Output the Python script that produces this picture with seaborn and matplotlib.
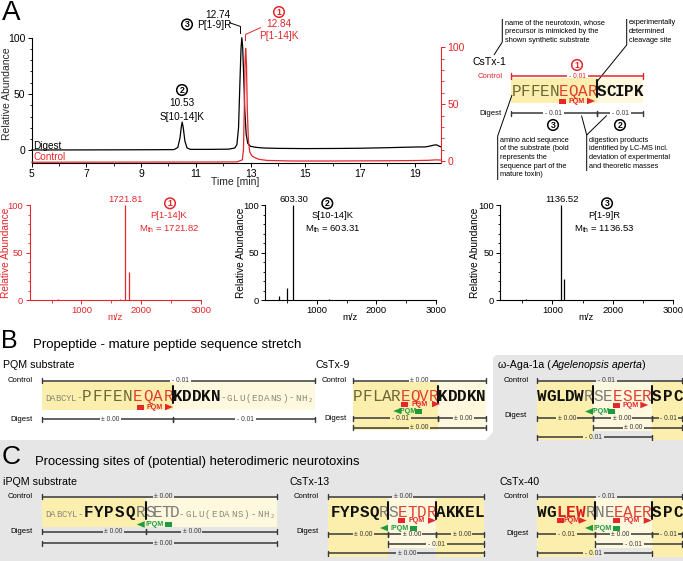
import matplotlib
matplotlib.use("Agg")
import matplotlib.pyplot as plt
import seaborn as sns
from matplotlib.patches import Rectangle, Polygon, Circle
from matplotlib.ticker import FixedLocator

# ================= DATA =================
# Panel A chromatogram (Digest: left axis, Control: right axis)
digest_time = [5.0, 6.5, 8.0, 9.5, 10.2, 10.34, 10.42, 10.47, 10.50, 10.54, 10.60, 10.68, 10.80,
               11.5, 12.2, 12.42, 12.50, 12.56, 12.61, 12.65, 12.68, 12.71, 12.75, 12.79, 12.84,
               12.90, 13.00, 13.20, 13.50, 14.0, 15.0, 16.0, 17.0, 18.0, 19.0, 19.4, 19.6, 19.7,
               19.8, 19.9, 19.96]
digest_abund = [0.3, 0.3, 0.4, 0.5, 0.6, 2.5, 11, 21, 25, 20, 8, 2, 0.8,
                0.8, 1.0, 2, 5, 20, 60, 90, 100, 92, 65, 35, 14,
                6, 3.5, 2.6, 2.0, 1.7, 1.5, 1.6, 1.8, 2.3, 2.9, 3.0, 4.0, 4.6,
                4.8, 3.6, 3.0]
control_time = [5.0, 8.0, 11.0, 12.5, 12.70, 12.74, 12.77, 12.80, 12.82, 12.85, 12.88, 12.92,
                12.97, 13.05, 13.15, 13.30, 13.60, 14.5, 16.0, 18.0, 19.0, 19.5, 19.8, 19.96]
control_abund = [-1.1, -1.0, -0.9, -0.8, 1, 10, 45, 88, 99, 85, 45, 18,
                 8, 4.5, 3, 1.5, 0.5, 0, 0, 0.2, 0.4, 0.6, 1.0, 0.8]
chrom_xticks = [5, 7, 9, 11, 13, 15, 17, 19]
chrom_xminor = [6, 8, 10, 12, 14, 16, 18]

# Mass spectra
ms1_mz = [600, 1650, 1721.81, 1790]
ms1_int = [1.2, 0.8, 100, 30]
ms2_mz = [360, 505, 603.30, 1200]
ms2_int = [4.5, 12.5, 100, 0.6]
ms3_mz = [560, 1136.52, 1190, 2000]
ms3_int = [0.8, 100, 22, 0.5]
ms_xticks = [1000, 2000, 3000]
ms_xminor = [500, 1500, 2500]
ms1_text = ["1721.81", "P[1-14]K", r"M$_{\rm th}$ = 1721.82"]
ms2_text = ["603.30", "S[10-14]K", r"M$_{\rm th}$ = 603.31"]
ms3_text = ["1136.52", "P[1-9]R", r"M$_{\rm th}$ = 1136.53"]

# Sequences: blocks between cleavage sites, (letters, style)
seq_cstx1 = [[("PFFEN", "pro"), ("EQAR", "red")], [("SCIPK", "bold")]]
seq_pqm = [[("PFFEN", "pro"), ("EQAR", "red")], [("KDDKN", "bold")]]
seq_cstx9 = [[("PFLAR", "pro"), ("EQVR", "red")], [("KDDKN", "bold")]]
seq_aga = [[("WGLDW", "bold"), ("R", "gray")], [("SE", "gray"), ("ESER", "red")], [("SPC", "bold")]]
seq_ipqm = [[("FYPSQ", "bold"), ("R", "gray")], [("SETD", "gray")]]
seq_cstx13 = [[("FYPSQ", "bold"), ("R", "gray")], [("S", "gray"), ("ETDR", "red")], [("AKKEL", "bold")]]
seq_cstx40 = [[("WG", "bold"), ("LEW", "boldred"), ("R", "gray")], [("NE", "gray"), ("EAER", "red")], [("SPC", "bold")]]
substrate_prefix = "DABCYL-"
substrate_suffix = "-GLU(EDANS)-NH\u2082"

# Mass deviations
dev_cstx1 = ["- 0.01", "- 0.01", "- 0.01"]
dev_pqm = ["- 0.01", "\u00b1 0.00", "- 0.01"]
dev_cstx9 = ["\u00b1 0.00", "- 0.01", "\u00b1 0.00", "\u00b1 0.00"]
dev_aga = ["- 0.01", "\u00b1 0.00", "\u00b1 0.00", "- 0.01", "\u00b1 0.00", "- 0.01"]
dev_ipqm = ["\u00b1 0.00", "\u00b1 0.00", "\u00b1 0.00", "\u00b1 0.00"]
dev_cstx13 = ["\u00b1 0.00", "\u00b1 0.00", "\u00b1 0.00", "\u00b1 0.00", "- 0.01", "\u00b1 0.00"]
dev_cstx40 = ["- 0.01", "- 0.01", "\u00b1 0.00", "- 0.01", "- 0.01", "- 0.01"]

# ================= STYLE =================
sns.set_style("ticks")
plt.rcParams["font.family"] = ["Liberation Sans", "DejaVu Sans"]
plt.rcParams["mathtext.fontset"] = "custom"
plt.rcParams["mathtext.rm"] = "Liberation Sans"
RED = "#e5262b"
TRED = "#e2402e"
GREEN = "#1f9a3c"
DARK = "#383838"
YEL = "#fcefae"
YEL_L = "#fef8de"
GRAYBG = "#e6e6e6"
MONO = ["Liberation Mono", "DejaVu Sans Mono"]
STY = {"pro": ("#6b6838", "normal"), "red": (TRED, "normal"), "bold": ("#111111", "bold"),
       "boldred": ("#d81e1e", "bold"), "gray": ("#7a7a7a", "normal")}

W, H = 683, 561
fig = plt.figure(figsize=(W / 100, H / 100), dpi=100)


def px(l, t, r, b):
    return [l / W, 1 - b / H, (r - l) / W, (b - t) / H]


def style_axis(ax, color, fs):
    for s in ["left", "bottom"]:
        ax.spines[s].set_color(color)
        ax.spines[s].set_linewidth(0.8)
    for s in ["top", "right"]:
        ax.spines[s].set_visible(False)
    ax.tick_params(which="major", length=3, width=0.7, color=color, labelcolor=color, labelsize=fs, pad=1.5)
    ax.tick_params(which="minor", length=1.8, width=0.6, color=color)
    ax.set_facecolor("none")


# ---------------- chromatogram ----------------
axc = fig.add_axes(px(31.7, 37.7, 441, 163))
sns.lineplot(x=digest_time, y=digest_abund, ax=axc, color="black", lw=0.9, estimator=None, sort=False)
axc.lines[-1].set_clip_on(False)
axc.set_xlim(5, 19.96)
axc.set_ylim(-11.3, 100)
style_axis(axc, "black", 7.5)
axc.xaxis.set_major_locator(FixedLocator(chrom_xticks))
axc.xaxis.set_minor_locator(FixedLocator(chrom_xminor))
axc.yaxis.set_major_locator(FixedLocator([0, 50, 100]))
axc.yaxis.set_minor_locator(FixedLocator(list(range(0, 101, 10))))
axc.set_xlabel("Time [min]", fontsize=7.5)
axc.xaxis.set_label_coords(0.497, -0.115)
axc.set_ylabel("Relative Abundance", fontsize=7.5)
axc.yaxis.set_label_coords(-0.047, 0.55)

axr = axc.twinx()
sns.lineplot(x=control_time, y=control_abund, ax=axr, color=RED, lw=0.9, estimator=None, sort=False)
axr.lines[-1].set_clip_on(False)
axr.set_ylim(-1.76, 108.4)
for s in ["left", "top", "bottom"]:
    axr.spines[s].set_visible(False)
axr.spines["right"].set_color(RED)
axr.spines["right"].set_linewidth(0.8)
axr.spines["right"].set_bounds(-1.76, 100)
axr.yaxis.set_major_locator(FixedLocator([0, 50, 100]))
axr.yaxis.set_minor_locator(FixedLocator(list(range(0, 101, 10))))
axr.tick_params(which="major", length=3, width=0.7, color=RED, labelcolor=RED, labelsize=7.5, pad=1.5)
axr.tick_params(which="minor", length=1.8, width=0.6, color=RED)
axr.set_ylabel("")
axr.set_facecolor("none")

# ---------------- mass spectra ----------------
spectra = [(29.5, 201, ms1_mz, ms1_int, RED, -0.108), (265, 436, ms2_mz, ms2_int, "black", -0.114),
           (500, 673, ms3_mz, ms3_int, "black", -0.113)]
for (l, r, mz, it, col, lx) in spectra:
    ax = fig.add_axes(px(l, 205.3, r, 300))
    ax.vlines(mz, 0, it, color=col, lw=0.9, clip_on=False)
    ax.set_xlim(130, 3000)
    ax.set_ylim(0, 100)
    style_axis(ax, col, 6.8)
    ax.xaxis.set_major_locator(FixedLocator(ms_xticks))
    ax.xaxis.set_minor_locator(FixedLocator(ms_xminor))
    ax.yaxis.set_major_locator(FixedLocator([0, 50, 100]))
    ax.yaxis.set_minor_locator(FixedLocator(list(range(0, 101, 10))))
    ax.set_xlabel("m/z", fontsize=6.8, color=col)
    ax.xaxis.set_label_coords(0.5, -0.135)
    ax.set_ylabel("Relative Abundance", fontsize=7.3, color=col)
    ax.yaxis.set_label_coords(lx, 0.5)

# ---------------- overlay ----------------
ov = fig.add_axes([0, 0, 1, 1], zorder=10)
ov.set_xlim(0, W)
ov.set_ylim(H, 0)
ov.axis("off")
ov.patch.set_alpha(0)

# gray background of panel C and omega-Aga box
ov.add_patch(Polygon([(0, 440), (486, 440), (493, 432), (493, 358), (496, 355), (683, 355),
                      (683, 561), (0, 561)], closed=True, color=GRAYBG, lw=0, zorder=0))


def T(x, y, s, fs=6, color="black", ha="left", va="center", **kw):
    return ov.text(x, y, s, fontsize=fs, color=color, ha=ha, va=va, **kw)


def circ(x, y, d, color="black"):
    ov.add_patch(Circle((x, y), 5.3, fill=False, ec=color, lw=1.1, zorder=5))
    T(x, y + 0.3, d, fs=6.3, color=color, ha="center", weight="bold")


def line(pts, color="black", lw=0.7):
    ov.plot([p[0] for p in pts], [p[1] for p in pts], color=color, lw=lw, solid_capstyle="butt")


def bracket(x0, x1, y, label, lx, color=DARK, gap=21, fs=4.8):
    ov.plot([x0, lx - gap / 2], [y, y], color=color, lw=1.1, solid_capstyle="butt")
    ov.plot([lx + gap / 2, x1], [y, y], color=color, lw=1.1, solid_capstyle="butt")
    ov.plot([x0, x0], [y - 2.6, y + 2.6], color=color, lw=1.0)
    ov.plot([x1, x1], [y - 2.6, y + 2.6], color=color, lw=1.0)
    T(lx, y, label, fs=fs, color=color, ha="center")


def yellow(x0, x1, y0, y1, c):
    ov.add_patch(Rectangle((x0, y0), x1 - x0, y1 - y0, color=c, lw=0, zorder=0.5))


def spaced(x0, x1, base, parts, fs=11.5):
    n = sum(len(p[0]) for p in parts)
    pitch = (x1 - x0) / n
    i = 0
    for txt, st in parts:
        col, wt = STY[st]
        for ch in txt:
            ov.text(x0 + (i + 0.5) * pitch, base, ch, ha="center", va="baseline", fontsize=fs,
                    color=col, weight=wt, family=MONO, zorder=3)
            i += 1


def small_seq(x0, x1, base, s):
    pitch = (x1 - x0) / len(s)
    for i, ch in enumerate(s):
        ov.text(x0 + (i + 0.5) * pitch, base, ch, ha="center", va="baseline", fontsize=6.6,
                color="#8a8a78", family=MONO, zorder=3)


def sequence(bounds, base, blocks):
    for k, blk in enumerate(blocks):
        spaced(bounds[k], bounds[k + 1], base, blk)


def cut(x, y0, y1):
    ov.plot([x, x], [y0, y1], color="#111111", lw=1.5, zorder=4)


def enzyme(xa, xb, y, label, color, right=True):
    h, rw, tl, th = 5, 7, 8, 6.5
    if right:
        ov.add_patch(Rectangle((xa, y - h / 2), rw, h, color=color, lw=0, zorder=4))
        ov.add_patch(Polygon([(xb - tl, y - th / 2), (xb, y), (xb - tl, y + th / 2)], color=color, lw=0, zorder=4))
        tx = (xa + rw + xb - tl) / 2
    else:
        ov.add_patch(Rectangle((xb - rw, y - h / 2), rw, h, color=color, lw=0, zorder=4))
        ov.add_patch(Polygon([(xa + tl, y - th / 2), (xa, y), (xa + tl, y + th / 2)], color=color, lw=0, zorder=4))
        tx = (xa + tl + xb - rw) / 2
    ov.text(tx, y + 0.3, label, ha="center", va="center", fontsize=5.1, weight="bold", color=color, zorder=4)


# ---------- panel letters & titles ----------
T(2, 12.5, "A", fs=20)
T(1, 341, "B", fs=18)
T(33, 345, "Propeptide - mature peptide sequence stretch", fs=9.5)
T(2, 457, "C", fs=19)
T(35, 462, "Processing sites of (potential) heterodimeric neurotoxins", fs=9.4)

# ---------- chromatogram annotations ----------
circ(187, 24.5, "3")
T(218.3, 15.2, "12.74", fs=7.2, ha="center")
T(214.3, 25, "P[1-9]R", fs=7.2, ha="center")
line([(229, 22.5), (240.5, 26.5), (240.5, 34)])
circ(279, 12, "1", RED)
T(279, 24, "12.84", fs=7.2, ha="center", color=RED)
T(279, 35.7, "P[1-14]K", fs=7.2, ha="center", color=RED)
line([(245.5, 41), (245.5, 34.5), (261, 27.5)], color=RED)
circ(182, 90, "2")
T(182, 103.3, "10.53", fs=7.2, ha="center")
T(182, 116.7, "S[10-14]K", fs=7.2, ha="center")
T(33, 145.5, "Digest", fs=7.2)
T(33, 156.5, "Control", fs=7.2, color=RED)

# ---------- spectrum annotations ----------
for (pk, cx, tx, txt, col, num) in [(125, 170, 169, ms1_text, RED, "1"),
                                    (293.5, 327.3, 333, ms2_text, "black", "2"),
                                    (562, 607, 604, ms3_text, "black", "3")]:
    T(pk, 199, txt[0], fs=6.8, ha="center", color=col)
    circ(cx, 203.3, num, col)
    T(tx, 215.7, txt[1], fs=6.8, ha="center", color=col)
    T(tx, 229, txt[2], fs=6.8, ha="center", color=col)

# ---------- panel A explanatory diagram (CsTx-1) ----------
for i, s in enumerate(["name of the neurotoxin, whose", "precursor is mimicked by the", "shown synthetic substrate"]):
    T(505, 22.7 + 8.67 * i, s, fs=5.3)
for i, s in enumerate(["experimentally", "determined", "cleavage site"]):
    T(629, 22.7 + 8.67 * i, s, fs=5.3)
for i, s in enumerate(["amino acid sequence", "of the substrate (bold", "represents the",
                       "sequence part of the", "mature toxin)"]):
    T(500, 140 + 8.67 * i, s, fs=5.3)
for i, s in enumerate(["digestion products", "identified by LC-MS incl.", "deviation of experimental",
                       "and theoretic masses"]):
    T(589, 140 + 8.67 * i, s, fs=5.3)
line([(502.3, 19), (502.3, 42), (494, 55)])
line([(626.7, 19), (626.7, 45), (597.5, 81)])
line([(497.7, 180), (497.7, 136), (512, 95)])
line([(586.7, 171), (586.7, 135), (581.5, 115.5)])
line([(586.7, 135), (606.7, 115.5)])

T(472.7, 61.7, "CsTx-1", fs=7.6)
T(502.7, 76, "Control", fs=5.6, ha="right", color=RED)
circ(577, 65, "1", RED)
bracket(511, 643, 76, dev_cstx1[0], 577, color=RED)
yellow(511, 597, 78, 103, YEL)
yellow(597, 643, 78, 103, YEL_L)
sequence([511.5, 597, 643], 95.5, seq_cstx1)
cut(597, 80, 97)
enzyme(559, 595, 101, "PQM", RED)
T(501.7, 113.3, "Digest", fs=5.6, ha="right")
bracket(511, 597, 113.3, dev_cstx1[1], 553)
bracket(597, 643, 113.3, dev_cstx1[2], 620)
circ(553, 125, "3")
circ(620, 125, "2")

# ---------- panel B ----------
# PQM substrate
T(3, 365, "PQM substrate", fs=7.7)
T(33, 380.7, "Control", fs=5.6, ha="right")
bracket(41.7, 315, 380.7, dev_pqm[0], 180)
yellow(41.7, 173.3, 382, 410, YEL)
yellow(173.3, 315, 382, 410, YEL_L)
small_seq(45, 81.7, 400.5, substrate_prefix)
sequence([81.7, 173.3, 220], 400.5, seq_pqm)
small_seq(220, 313, 400.5, substrate_suffix)
cut(173.3, 386, 403)
enzyme(136.7, 173, 407, "PQM", RED)
T(33, 419.3, "Digest", fs=5.6, ha="right")
bracket(41.7, 173.3, 419.3, dev_pqm[1], 110)
bracket(173.3, 315, 419.3, dev_pqm[2], 245)

# CsTx-9
T(315, 365, "CsTx-9", fs=7.7)
T(347, 380.7, "Control", fs=5.6, ha="right")
bracket(352.7, 486, 380.7, dev_cstx9[0], 419.3)
yellow(352.7, 438.3, 382, 430, YEL)
yellow(438.3, 486, 382, 430, YEL_L)
sequence([353.3, 438.3, 486], 400.5, seq_cstx9)
cut(438.3, 386, 403)
enzyme(401, 440, 404, "PQM", RED)
enzyme(393.3, 421.7, 411, "iPQM", GREEN, right=False)
T(347, 418.3, "Digest", fs=5.6, ha="right")
bracket(352.7, 438.3, 418.3, dev_cstx9[1], 400)
bracket(438.3, 486, 418.3, dev_cstx9[2], 463.3)
bracket(352.7, 486, 427.7, dev_cstx9[3], 419)

# omega-Aga-1a
rend = fig.canvas.get_renderer()
xx = 498.3
for s, st in [("\u03c9-Aga-1a (", "normal"), ("Agelenopsis aperta", "italic"), (")", "normal")]:
    t = T(xx, 365, s, fs=7.7, style=st)
    xx = t.get_window_extent(rend).x1
T(529, 380.7, "Control", fs=5.6, ha="right")
bracket(536.7, 681.7, 380.7, dev_aga[0], 606)
yellow(536.7, 593.3, 382, 440, YEL)
yellow(593.3, 651.7, 382, 431, YEL_L)
yellow(651.7, 683, 382, 440, YEL)
sequence([536.7, 593.3, 651.7, 683], 400.5, seq_aga)
cut(593.3, 386, 403)
cut(651.7, 386, 403)
enzyme(613.3, 648.3, 405, "PQM", RED)
enzyme(585, 615, 411.5, "iPQM", GREEN, right=False)
T(526.7, 415, "Digest", fs=5.6, ha="right")
bracket(536.7, 593.3, 418.3, dev_aga[1], 566.7)
bracket(593.3, 651.7, 418.3, dev_aga[2], 621.7)
bracket(651.7, 681.7, 418.3, dev_aga[3], 668.3, gap=19)
bracket(593.3, 681.7, 427.7, dev_aga[4], 633)
bracket(536.7, 651.7, 437.3, dev_aga[5], 593.3)

# ---------- panel C ----------
# iPQM substrate
T(3, 481.7, "iPQM substrate", fs=7.7)
T(33, 496.7, "Control", fs=5.6, ha="right")
bracket(41.7, 276.7, 496.7, dev_ipqm[0], 163.3)
yellow(41.7, 145.7, 498, 527, YEL)
yellow(145.7, 276.7, 498, 527, YEL_L)
small_seq(45, 83.3, 517, substrate_prefix)
sequence([83.3, 145.7, 178.3], 517, seq_ipqm)
small_seq(178.3, 276, 517, substrate_suffix)
cut(145.7, 502, 519)
enzyme(136.7, 171.7, 524.5, "iPQM", GREEN, right=False)
T(33, 531.7, "Digest", fs=5.6, ha="right")
bracket(41.7, 145.7, 531.7, dev_ipqm[1], 113.3)
bracket(145.7, 276.7, 531.7, dev_ipqm[2], 191.7)
bracket(41.7, 276.7, 543.3, dev_ipqm[3], 163.3)

# CsTx-13
T(290, 481.7, "CsTx-13", fs=7.7)
T(318.3, 496.7, "Control", fs=5.6, ha="right")
bracket(328.3, 484, 496.7, dev_cstx13[0], 402.7)
yellow(328.3, 388.3, 498, 557, YEL)
yellow(388.3, 436, 498, 548, YEL_L)
yellow(436, 484, 498, 557, YEL)
sequence([330.5, 388.3, 436, 484], 517, seq_cstx13)
cut(388.3, 502, 519)
cut(436, 502, 519)
enzyme(398.3, 436, 520.5, "PQM", RED)
enzyme(380, 417.3, 528, "iPQM", GREEN, right=False)
T(318.3, 531.7, "Digest", fs=5.6, ha="right")
bracket(328.3, 388.3, 534.3, dev_cstx13[1], 363.3)
bracket(388.3, 436, 534.3, dev_cstx13[2], 411.7)
bracket(436, 484, 534.3, dev_cstx13[3], 461.7)
bracket(388.3, 484, 544, dev_cstx13[4], 436.7)
bracket(328.3, 484, 553.3, dev_cstx13[5], 406.7)

# CsTx-40
T(499.3, 481.7, "CsTx-40", fs=7.7)
T(529, 496.7, "Control", fs=5.6, ha="right")
bracket(536.7, 681.7, 496.7, dev_cstx40[0], 606.7)
yellow(536.7, 595, 498, 557, YEL)
yellow(595, 651.7, 498, 548, YEL_L)
yellow(651.7, 683, 498, 557, YEL)
sequence([536.7, 595, 651.7, 683], 517, seq_cstx40)
cut(595, 502, 519)
cut(651.7, 502, 519)
enzyme(556.7, 586.7, 520.5, "PQM", RED)
enzyme(613.3, 651.7, 520.5, "PQM", RED)
enzyme(585, 620, 528, "iPQM", GREEN, right=False)
T(529, 533.3, "Digest", fs=5.6, ha="right")
bracket(536.7, 595, 534.3, dev_cstx40[1], 566.7)
bracket(595, 651.7, 534.3, dev_cstx40[2], 620)
bracket(651.7, 681.7, 534.3, dev_cstx40[3], 668.3, gap=19)
bracket(595, 681.7, 544, dev_cstx40[4], 633.3)
bracket(536.7, 651.7, 553.3, dev_cstx40[5], 593.3)

fig.savefig("out.png", dpi=100)
